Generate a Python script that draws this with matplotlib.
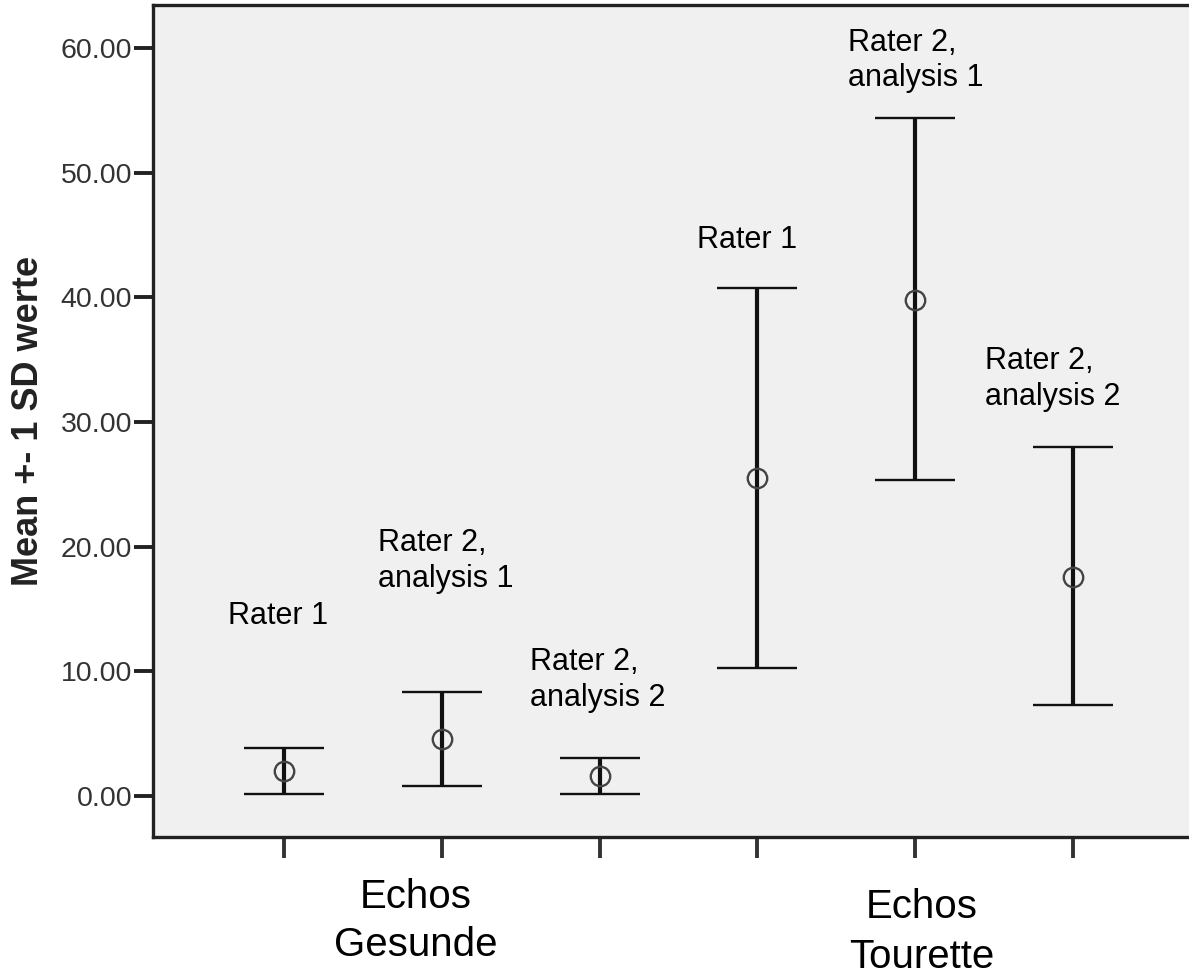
import matplotlib.pyplot as plt

# values (Mean +- 1 SD)
positions = [1, 2, 3, 4, 5, 6]
means = [1.99, 4.59, 1.64, 25.52, 39.82, 17.58]
upper = [3.81, 8.36, 3.03, 40.76, 54.42, 27.97]
lower = [0.18, 0.84, 0.14, 10.28, 25.33, 7.26]
bar_labels = ["Rater 1", "Rater 2,\nanalysis 1", "Rater 2,\nanalysis 2",
              "Rater 1", "Rater 2,\nanalysis 1", "Rater 2,\nanalysis 2"]
label_x = [0.962, 1.596, 2.559, 3.617, 4.574, 5.442]
label_y = [14.4, 18.85, 9.3, 44.6, 59.0, 33.45]
label_ha = ["center", "left", "left", "left", "left", "left"]
group_labels = ["Echos\nGesunde", "Echos\nTourette"]
yticks = [0, 10, 20, 30, 40, 50, 60]

plt.rcParams['font.family'] = ['Liberation Sans', 'DejaVu Sans']

fig = plt.figure(figsize=(11.89, 9.80), dpi=100)
ax = fig.add_axes([153/1189, 1-837/980, 1-153/1189, (837-5)/980])
ax.set_facecolor("#f0f0f0")

err = [[m - l for m, l in zip(means, lower)], [u - m for m, u in zip(means, upper)]]
ax.errorbar(positions, means, yerr=err, fmt='o', mfc='none', mec='#444444', mew=1.7,
            ms=14, ecolor='#111111', elinewidth=3, capsize=29, capthick=3.5)

for x, y, t, ha in zip(label_x, label_y, bar_labels, label_ha):
    ax.text(x, y, t, ha=ha, va='center', fontsize=22, linespacing=1.25, color='black')

ax.set_xlim(0.17, 6.735)
ax.set_ylim(-3.29, 63.45)
ax.set_xticks(positions)
ax.set_xticklabels([])
ax.set_yticks(yticks)
ax.set_yticklabels(["%.2f" % v for v in yticks], fontsize=20.5, color='#333333')
ax.tick_params(axis='y', length=14, width=2.8, color='#222222', pad=1)
ax.tick_params(axis='x', length=15, width=2.8, color='#333333')
for s in ['left', 'top', 'bottom']:
    ax.spines[s].set_linewidth(2.4)
    ax.spines[s].set_color('#222222')
ax.spines['right'].set_visible(False)

ax.set_ylabel("Mean +- 1 SD werte", fontsize=26, fontweight='bold', color='#222222')
ax.yaxis.set_label_coords((46 - 153) / 1036, 0.5)

fig.text(416/1189, 1-921/980, group_labels[0], ha='center', va='center', fontsize=29, linespacing=1.35)
fig.text(922/1189, 1-932/980, group_labels[1], ha='center', va='center', fontsize=29, linespacing=1.4)

fig.savefig("out.png", dpi=100)
